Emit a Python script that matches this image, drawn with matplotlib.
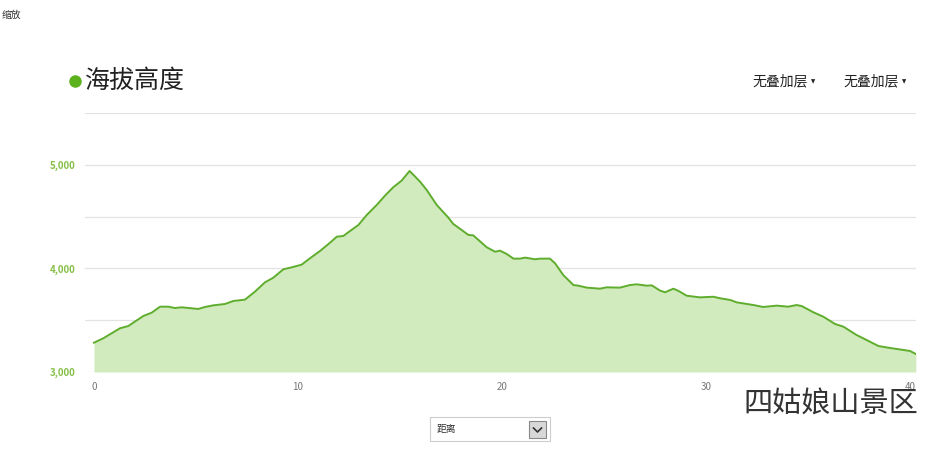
import matplotlib
matplotlib.use("Agg")
import matplotlib.pyplot as plt
from matplotlib.patches import Rectangle
from matplotlib.lines import Line2D

plt.rcParams['font.family'] = ['Noto Sans CJK SC', 'DejaVu Sans']

# distance (km) and elevation (m)
distance_km = [0.0, 0.46, 1.27, 1.68, 2.42, 2.83, 3.24, 3.64, 3.97, 4.3, 5.11, 5.44, 5.85,
               6.42, 6.83, 7.4, 7.89, 8.38, 8.79, 9.28, 9.69, 10.18, 10.59, 11.08, 11.57,
               11.9, 12.22, 12.55, 12.96, 13.37, 13.86, 14.26, 14.67, 15.08, 15.47, 15.98,
               16.31, 16.8, 17.37, 17.61, 18.02, 18.35, 18.59, 19.25, 19.66, 19.9, 20.23,
               20.56, 20.88, 21.13, 21.62, 21.86, 22.35, 22.6, 23.0, 23.5, 23.74, 24.15,
               24.8, 25.13, 25.78, 26.27, 26.6, 27.09, 27.34, 27.75, 27.99, 28.4, 28.65,
               29.05, 29.7, 30.36, 30.69, 31.18, 31.5, 32.32, 32.8, 33.46, 34.03, 34.44,
               34.69, 35.26, 35.75, 36.32, 36.73, 37.38, 37.87, 38.45, 39.02, 39.67, 40.0,
               40.28]
elevation_m = [3283, 3326, 3422, 3444, 3541, 3573, 3631, 3631, 3618, 3625, 3609, 3628, 3644,
               3657, 3686, 3699, 3776, 3866, 3911, 3992, 4011, 4037, 4099, 4169, 4249,
               4307, 4314, 4362, 4420, 4517, 4614, 4703, 4785, 4849, 4942, 4839,
               4758, 4614, 4491, 4430, 4372, 4324, 4320, 4205, 4162, 4172, 4140,
               4095, 4095, 4105, 4089, 4095, 4095, 4050, 3937, 3840, 3834, 3815,
               3805, 3818, 3815, 3840, 3847, 3834, 3837, 3786, 3770, 3805, 3783,
               3737, 3721, 3727, 3712, 3696, 3673, 3647, 3628, 3641, 3631, 3647,
               3637, 3577, 3534, 3464, 3438, 3357, 3309, 3251, 3232, 3213, 3203,
               3174]

y_ticks = [3000, 4000, 5000]
y_tick_labels = ["3,000", "4,000", "5,000"]
y_grid = [3000, 3500, 4000, 4500, 5000, 5500]
x_ticks = [0, 10, 20, 30, 40]
x_tick_labels = ["0", "10", "20", "30", "40"]

W, H = 950, 453
fig = plt.figure(figsize=(W / 100, H / 100), dpi=100)

def fx(px):
    return px / W

def fy(py):
    return 1 - py / H

# axes: x 85..916 px, y 113..372 px
ax = fig.add_axes([fx(85), fy(372), (916 - 85) / W, (372 - 113) / H])
ax.set_xlim(-0.44, 40.29)
ax.set_ylim(3000, 5502)

for g in y_grid:
    ax.axhline(g, color='#e3e3e3', lw=0.9, zorder=0)

ax.fill_between(distance_km, elevation_m, 3000, color='#d1ebbf', lw=0, zorder=1)
ax.plot(distance_km, elevation_m, color='#5fad2c', lw=1.4, zorder=2)

for s in ax.spines.values():
    s.set_visible(False)
ax.set_yticks(y_ticks)
ax.set_yticklabels(y_tick_labels, color='#86bf45', fontsize=7, fontweight='bold')
ax.set_xticks(x_ticks)
ax.set_xticklabels(x_tick_labels, color='#777777', fontsize=7)
ax.tick_params(axis='both', length=0)
ax.tick_params(axis='y', pad=7)
ax.tick_params(axis='x', pad=7)

# texts
fig.text(fx(2), fy(15), "缩放", fontsize=7, color='#333333', va='center', ha='left')
fig.lines.append(Line2D([fx(75)], [fy(81)], transform=fig.transFigure, marker='o',
                        markersize=9, color='#5cb21c', markeredgewidth=0))
fig.text(fx(85), fy(81), "海拔高度", fontsize=18, color='#222222', va='center', ha='left')
for x0 in (752, 843):
    fig.text(fx(x0), fy(81), "无叠加层", fontsize=10, color='#222222', va='center', ha='left')
    fig.text(fx(x0 + 59), fy(82), "▼", fontsize=4, color='#222222', va='center', ha='left',
             family=['DejaVu Sans'])

# dropdown
fig.patches.append(Rectangle((fx(430), fy(441)), 120 / W, 24 / H, transform=fig.transFigure,
                             facecolor='white', edgecolor='#cccccc', lw=0.8))
fig.patches.append(Rectangle((fx(529), fy(438)), 17 / W, 17 / H, transform=fig.transFigure,
                             facecolor='#d8d8d8', edgecolor='#888888', lw=0.8))
fig.lines.append(Line2D([fx(533.5), fx(537.5), fx(541.5)], [fy(428), fy(432), fy(428)],
                        transform=fig.transFigure, color='#333333', lw=1.2))
fig.text(fx(437), fy(429), "距离", fontsize=7, color='#333333', va='center', ha='left')

# watermark
fig.text(fx(918), fy(405), "四姑娘山景区", fontsize=21, color='#333333', va='center',
         ha='right', fontweight='light')

fig.savefig("out.png", dpi=100)
